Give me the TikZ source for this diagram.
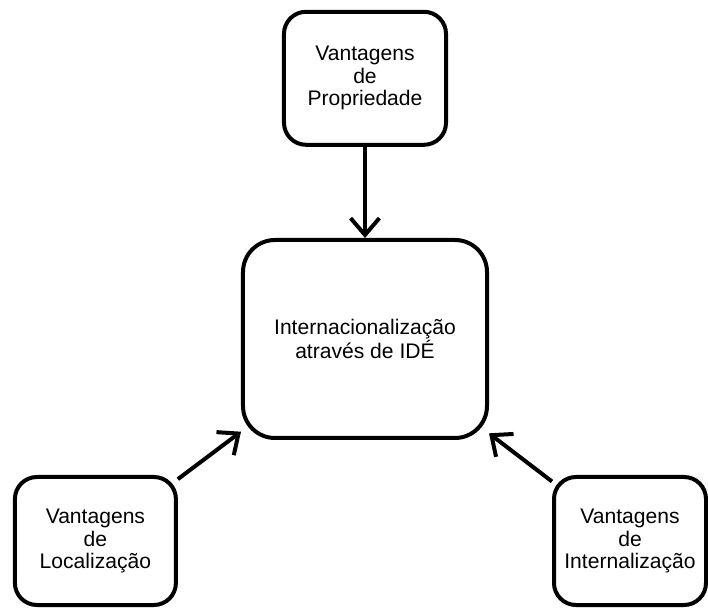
\documentclass[tikz,border=0pt]{standalone}
\usepackage{fontspec}
\setmainfont{Liberation Sans}
\usepackage{tikz}
\usetikzlibrary{positioning, arrows.meta}

\tikzset{
  caixa/.style={draw, line width=0.1cm, rounded corners=0.55cm, align=center},
  seta/.style={line width=0.1cm, -{Straight Barb[length=0.42cm, width=0.72cm]}}
}

\begin{document}
\begin{tikzpicture}[node distance=2.28cm, every node/.style={font=\fontsize{15}{16}\selectfont}]
    \useasboundingbox (-9.125,-6.775) rectangle (8.575,8.475);

    \node[caixa, rounded corners=0.8cm, minimum width=6.1cm, minimum height=4.95cm] (ide) at (0,0)
      {Internacionalização\\
       através de IDÉ};

    \node[caixa, minimum width=4.05cm, minimum height=3.325cm, above=of ide] (prop)
      {Vantagens\\
       de\\
       Propriedade};

    \node[caixa, minimum width=4.025cm, minimum height=3.2cm] (loc) at (-6.74,-5.05)
      {Vantagens\\
       de\\
       Localização};

    \node[caixa, minimum width=3.8cm, minimum height=3.2cm] (intern) at (6.625,-5.05)
      {Vantagens\\
       de\\
       Internalização};

    \draw[seta] (prop) -- (ide);
    \draw[seta] (loc) -- (ide);
    \draw[seta] (intern) -- (ide);
  \end{tikzpicture}
\end{document}
